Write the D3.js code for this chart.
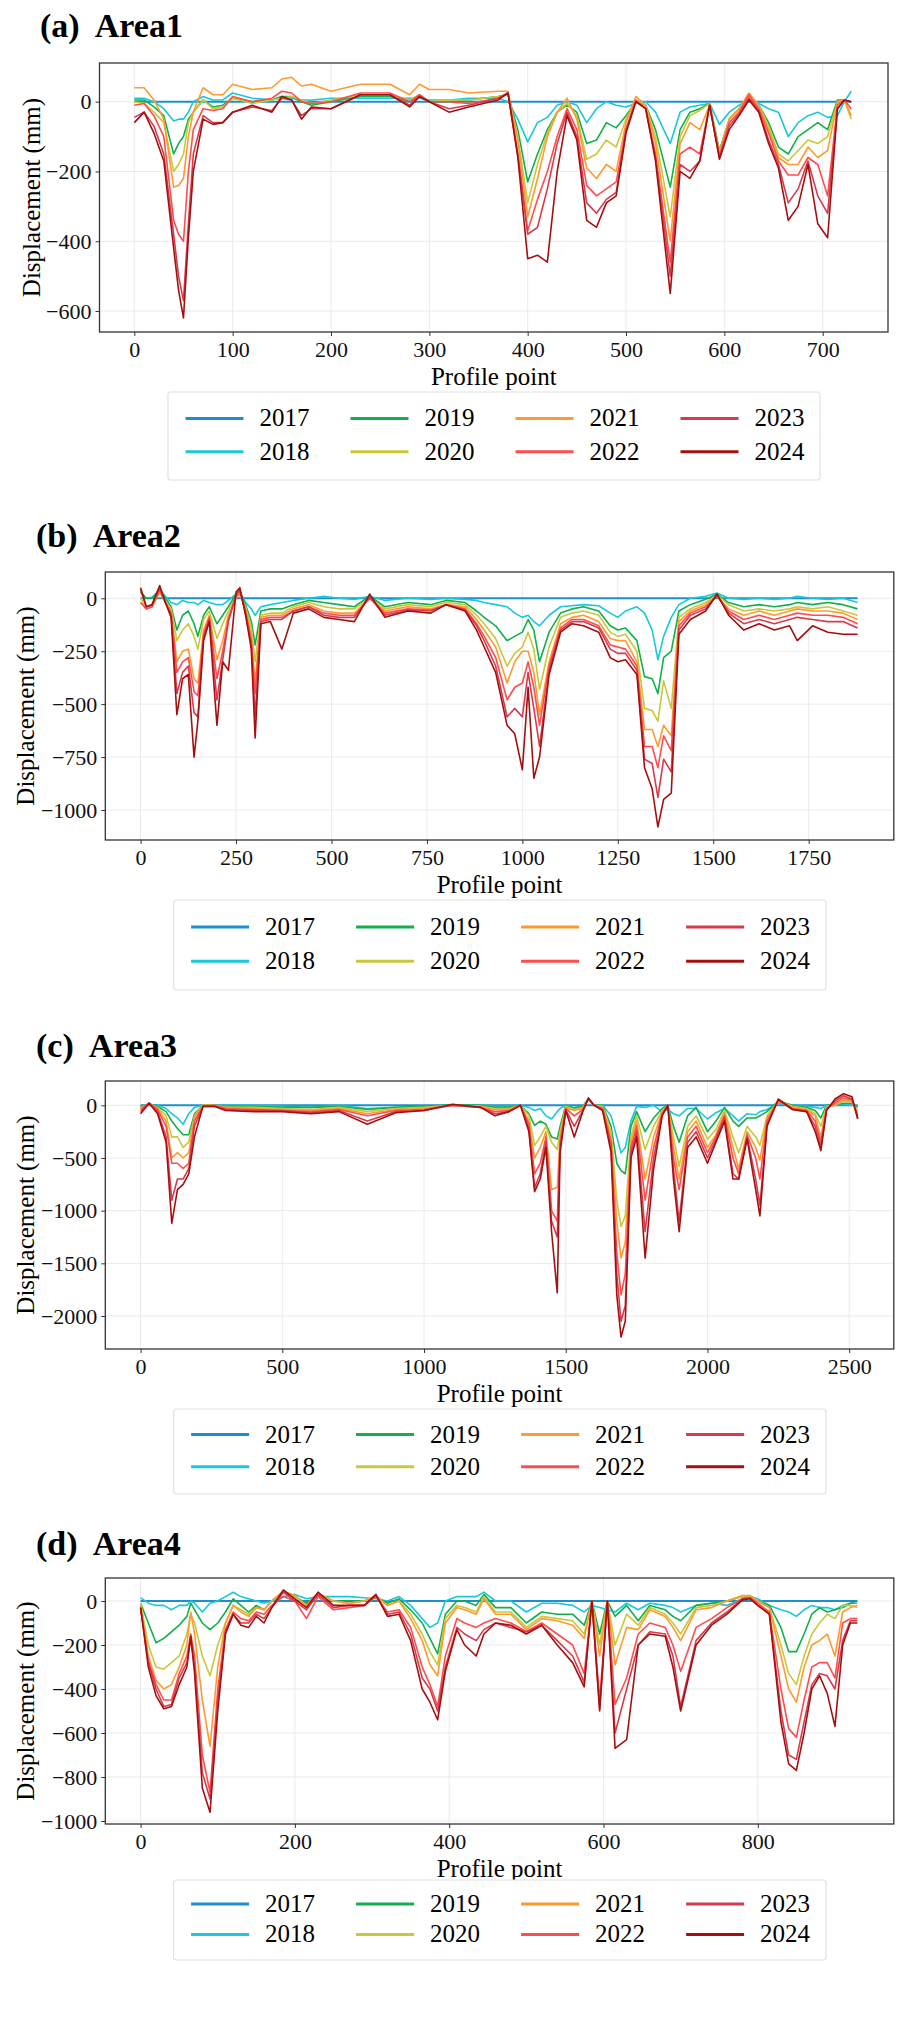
<!DOCTYPE html>
<html>
<head>
<meta charset="utf-8">
<script src="https://cdn.jsdelivr.net/npm/d3@7"></script>
<style>
  body { margin: 0; background: #fff; }
  text { font-family: "Liberation Serif", "Times New Roman", serif; }
</style>
</head>
<body>
<svg id="fig" width="906" height="2020"></svg>
<script>
// years and colours of the legend
const years = ["2017", "2018", "2019", "2020", "2021", "2022", "2023", "2024"];
const colors = ["#1b8fcf", "#19c8dc", "#10b04a", "#c8c83a", "#ff9a30", "#ff4c4c", "#d63a4e", "#a3100f"];

// ---- Area1 ----
const a1x = [0,10,20,30,40,45,50,55,60, 70,80,90,100, 120,140,150,160,170,180,200, 230,260,280,290,300,320,340,370,380,
  390,400,410,420,430,440,450,460,470,480,490,500,510,520,530, 545,555,565,575,585,595,605,615,625,635,645,655,665,675,685,695,705, 715,722,729];
const a1_2017 = a1x.map(() => 0);
const a1_2018 = [10,10,0,-20,-55,-50,-50,-30,0, 15,5,5,25, 10,5,15,10,5,5,10, 10,10,10,10,5,5,10,10,0,
  -50,-115,-60,-45,-10,0,-10,-60,-20,0,-10,-15,-5,0,-30, -120,-30,-15,-10,-5,-65,-30,-10,5,-5,-20,-30,-100,-60,-40,-30,-45, -40,0,30];
const a1_2019 = [5,5,-15,-40,-150,-120,-100,-50,-30, 5,-15,-10,10, 0,5,15,15,0,-10,0, 15,15,0,15,0,0,5,15,20,
  -80,-230,-150,-80,-30,-10,-30,-120,-110,-60,-75,-40,0,-10,-80, -245,-80,-30,-20,-5,-140,-50,-20,10,-10,-60,-130,-150,-100,-80,-60,-80, 5,5,0];
const a1_2020 = [0,-5,-30,-60,-200,-180,-150,-60,-30, 5,-20,-15,10, -5,5,10,15,5,-5,5, 20,20,5,20,0,5,5,15,20,
  -100,-290,-180,-90,-30,-5,-40,-165,-150,-110,-130,-50,5,-10,-100, -330,-100,-40,-25,-5,-145,-50,-20,15,-10,-70,-150,-170,-140,-110,-120,-100, 0,5,-50];
const a1_2021 = [40,40,5,-50,-245,-240,-220,-100,-30, 40,20,20,50, 35,40,65,70,45,50,30, 50,50,20,50,35,35,25,30,30,
  -110,-330,-220,-100,-30,10,-50,-190,-220,-180,-200,-60,15,-10,-120, -400,-120,-60,-80,-10,-150,-50,-20,25,-10,-80,-160,-180,-180,-130,-160,-140, 0,5,-40];
const a1_2022 = [-10,-5,-40,-100,-340,-380,-400,-200,-80, -20,-25,-20,15, 0,10,30,25,0,-5,0, 25,25,0,20,0,0,-5,10,25,
  -150,-370,-280,-200,-100,-20,-80,-240,-270,-250,-230,-80,5,-20,-150, -460,-150,-130,-150,-10,-155,-60,-30,20,-20,-90,-170,-210,-210,-160,-180,-270, -10,5,-20];
const a1_2023 = [-45,-30,-70,-150,-380,-500,-570,-350,-150, -40,-60,-60,-30, -15,-25,10,5,-40,-20,-20, 20,20,-10,15,0,-20,-10,10,25,
  -150,-380,-360,-250,-120,-30,-100,-290,-320,-280,-260,-80,0,-20,-160, -500,-180,-200,-170,-10,-160,-70,-35,10,-25,-110,-180,-290,-250,-170,-270,-320, -20,5,0];
const a1_2024 = [-60,-30,-90,-170,-420,-540,-620,-390,-200, -50,-65,-60,-30, -10,-30,15,5,-50,-15,-20, 20,20,-15,15,0,-30,-15,5,25,
  -160,-450,-440,-460,-200,-40,-110,-340,-360,-290,-270,-90,0,-20,-170, -550,-200,-220,-170,-10,-165,-80,-40,5,-30,-120,-190,-340,-300,-180,-350,-390, -20,5,0];

// ---- Area2 ----
const a2x = [0,15,30,50,65,80,95,110,125,140, 150,165,180,200,215,230,250,260,275,290, 300,315,340,370,400,440,480,520,560,600,
  640,700,760,800,850,880,900,930,960,980, 1000,1015,1030,1045,1070,1100,1130,1160,1200,1230,
  1250,1270,1300,1320,1340,1355,1370,1390,1410,1440, 1480,1510,1540,1580,1620,1660,1700,1720,1760,1800, 1840,1878];
const a2_2017 = a2x.map(() => 0);
const a2_2018 = [30,0,5,40,10,-20,-30,-10,-20,-20, -30,-10,-20,-30,-30,-10,20,30,-20,-50, -80,-40,-30,-20,-10,0,10,0,-5,10,
  -10,0,-5,0,-5,-10,-20,-30,-40,-70, -90,-80,-110,-130,-80,-40,-35,-30,-35,-70, -90,-60,-40,-70,-150,-290,-180,-90,-30,0,
  10,25,0,-5,0,-5,0,10,0,-5, 0,-20];
const a2_2019 = [30,0,0,40,0,-40,-150,-80,-60,-120, -180,-80,-40,-120,-80,-40,20,30,-30,-110, -220,-60,-50,-50,-30,-10,-20,-30,-40,10,
  -40,-20,-30,-10,-20,-60,-90,-130,-200,-180, -160,-100,-150,-300,-160,-70,-50,-40,-60,-130, -150,-140,-200,-370,-380,-450,-280,-250,-60,-30,
  -5,20,-20,-40,-30,-40,-30,-20,-30,-20, -30,-50];
const a2_2020 = [0,-40,-30,30,-10,-50,-200,-150,-120,-180, -240,-100,-60,-190,-120,-60,10,20,-40,-140, -300,-80,-70,-70,-40,-20,-40,-50,-50,0,
  -50,-30,-40,-20,-30,-80,-120,-190,-320,-260, -230,-160,-240,-430,-230,-90,-70,-60,-80,-160, -180,-170,-250,-520,-530,-580,-390,-520,-90,-50,
  -20,15,-30,-60,-50,-60,-50,-40,-50,-40, -60,-80];
const a2_2021 = [-20,-50,-40,30,-20,-60,-300,-250,-240,-380, -400,-150,-80,-290,-200,-80,0,20,-50,-180, -400,-90,-80,-80,-50,-30,-60,-70,-70,0,
  -60,-40,-50,-30,-40,-100,-150,-230,-400,-300, -250,-250,-350,-550,-300,-120,-90,-80,-110,-190, -200,-200,-300,-620,-620,-700,-600,-650,-110,-60,
  -30,10,-50,-80,-60,-80,-60,-50,-60,-60, -70,-100];
const a2_2022 = [-20,-50,-40,40,-20,-70,-350,-300,-280,-440, -460,-170,-90,-380,-250,-100,10,30,-60,-200, -450,-100,-90,-90,-60,-40,-70,-80,-80,0,
  -70,-50,-55,-30,-50,-120,-180,-280,-480,-420, -400,-300,-420,-600,-320,-140,-100,-100,-130,-220, -230,-240,-320,-700,-700,-800,-650,-720,-130,-70,
  -40,10,-60,-100,-80,-100,-80,-70,-80,-80, -90,-120];
const a2_2023 = [40,-40,-30,50,-20,-80,-450,-350,-320,-540, -560,-180,-100,-480,-290,-110,20,40,-70,-220, -560,-110,-100,-100,-60,-40,-80,-90,-90,5,
  -80,-55,-60,-30,-55,-130,-200,-320,-560,-520, -560,-350,-520,-700,-340,-150,-110,-110,-140,-240, -260,-260,-340,-760,-780,-940,-760,-820,-150,-80,
  -50,15,-70,-120,-100,-120,-100,-90,-100,-110, -110,-140];
const a2_2024 = [50,-40,-30,60,-20,-90,-550,-380,-360,-750, -580,-200,-110,-600,-300,-340,30,50,-80,-240, -660,-120,-110,-240,-70,-50,-90,-100,-110,20,
  -90,-60,-70,-30,-60,-150,-230,-350,-600,-640, -810,-420,-850,-750,-360,-160,-120,-130,-160,-280, -300,-290,-360,-800,-900,-1080,-950,-920,-170,-100,
  -60,20,-80,-150,-120,-150,-130,-200,-130,-160, -170,-170];

// ---- Area3 ----
const a3x = [0,30,60,90,110,130,150,170,190,220, 260,300,400,500,600,700,800,900,1000,1100, 1200,1250,1300,1340,1370,1390,1410,1430,1450,1470,
  1480,1500,1530,1560,1580,1600,1630,1660,1680,1695, 1710,1730,1750,1780,1810,1840,1860,1880,1900,1930,
  1960,2000,2030,2060,2090,2110,2140,2170,2185,2210, 2250,2300,2350,2380,2400,2420,2450,2480,2510,2530];
const a3_2017 = a3x.map(() => 0);
const a3_2018 = [-10,10,0,-30,-80,-120,-180,-80,-20,0, 0,0,0,-10,-20,0,-30,-20,-10,5, 0,-10,-10,0,-20,-50,-30,-100,-130,-60,
  -30,0,-20,-10,60,0,0,-100,-300,-450, -400,-150,-10,-20,0,-60,-40,-80,-100,-30, -30,-130,-70,-30,-100,-150,-80,-90,-60,-40,
  20,0,-10,-20,-30,0,0,10,0,0];
const a3_2019 = [-10,10,-10,-60,-150,-220,-280,-280,-80,0, 0,-10,-10,-20,-20,-10,-40,-20,-10,5, 0,-20,-20,0,-80,-190,-150,-180,-300,-320,
  -200,0,-30,-10,60,0,0,-200,-550,-620, -650,-200,-60,-250,-120,-30,0,-200,-350,-100, -20,-250,-150,-20,-150,-200,-120,-120,-100,-60,
  40,0,-20,-50,-120,0,0,20,20,-20];
const a3_2020 = [-20,10,-20,-100,-300,-300,-400,-350,-100,0, 0,-20,-20,-30,-40,-20,-60,-30,-20,0, -10,-30,-30,0,-100,-380,-300,-200,-350,-420,
  -250,-10,-40,-20,60,0,-10,-250,-900,-1150, -1050,-300,-100,-420,-200,-50,0,-300,-580,-200, -100,-320,-230,-50,-300,-450,-200,-300,-380,-100,
  40,-10,-30,-80,-200,-10,0,40,30,-50];
const a3_2021 = [-30,20,-30,-150,-500,-450,-500,-450,-120,0, 0,-20,-30,-40,-50,-30,-80,-40,-30,0, -10,-40,-40,0,-150,-500,-400,-250,-800,-780,
  -300,-20,-50,-30,60,0,-20,-300,-1100,-1450, -1300,-350,-150,-700,-300,-60,0,-400,-700,-250, -150,-400,-280,-70,-400,-600,-250,-400,-520,-120,
  40,-20,-40,-100,-300,-20,0,50,40,-80];
const a3_2022 = [-40,20,-40,-200,-550,-550,-600,-550,-150,-10, 0,-30,-40,-50,-60,-40,-100,-50,-40,0, -20,-60,-50,0,-180,-650,-550,-300,-1000,-1100,
  -350,-30,-100,-40,60,0,-30,-350,-1400,-1800, -1600,-400,-200,-900,-400,-80,0,-500,-800,-300, -200,-450,-300,-100,-500,-650,-280,-500,-700,-150,
  50,-30,-50,-150,-350,-30,20,70,50,-100];
const a3_2023 = [-60,20,-60,-300,-900,-700,-700,-600,-200,-10, -10,-40,-50,-50,-70,-50,-150,-60,-50,0, -20,-80,-60,0,-220,-780,-650,-350,-1100,-1250,
  -400,-40,-200,-50,60,0,-40,-400,-1600,-2050, -1900,-450,-250,-1200,-500,-90,0,-600,-1100,-350, -250,-500,-320,-120,-650,-700,-300,-700,-950,-180,
  50,-40,-60,-200,-400,-40,40,90,60,-120];
const a3_2024 = [-80,20,-80,-350,-1120,-800,-750,-650,-300,-10, -10,-50,-60,-60,-80,-60,-180,-70,-50,10, -20,-100,-60,0,-250,-820,-700,-400,-1200,-1780,
  -450,-50,-300,-60,70,0,-50,-450,-1800,-2200, -2050,-500,-300,-1450,-600,-100,0,-700,-1200,-400, -300,-550,-350,-150,-700,-700,-320,-800,-1050,-200,
  60,-40,-60,-250,-430,-50,60,110,80,-130];

// ---- Area4 ----
const a4x = [0,10,20,30,40,50,60,65,70,80, 90,100,110,120,130,140,150,160,170,185, 200,215,230,250,270,290,305,320,335,350,
  365,375,385,395,410,420,435,445,460,480, 500,520,540,560,575,585,595,605,615,630, 645,660,680,690,700,720,740,760,780,790,
  800,815,830,840,850,860,870,880,890,900, 910,920,929];
const a4_2017 = a4x.map(() => 0);
const a4_2018 = [15,-10,-20,-20,-40,-20,-20,0,-10,-50, -10,0,20,40,20,10,0,-10,0,20, 30,10,20,20,20,15,10,0,20,-20,
  -80,-120,-100,0,20,20,20,40,0,0, -50,-10,-10,-20,-50,-20,-30,-40,-50,-10, -40,-10,-20,-30,-50,-20,-10,-20,10,20,
  10,-20,-40,-50,-70,-40,-20,-30,-30,-40, -20,-10,-10];
const a4_2019 = [-10,-100,-190,-170,-140,-110,-70,-10,-40,-100, -130,-100,-50,10,-20,-50,-20,-40,0,40, 20,-10,30,0,0,0,20,-10,10,-40,
  -100,-170,-240,-60,0,0,-20,30,-30,-30, -100,-50,-60,-60,-110,0,-150,0,-70,-20, -90,-20,-40,-70,-90,-20,-10,0,20,20,
  0,-20,-120,-230,-230,-150,-60,-30,-50,-40, -30,-10,0];
const a4_2020 = [-10,-200,-300,-310,-280,-250,-150,-60,-100,-250, -340,-200,-100,-20,-40,-60,-30,-40,0,40, 20,-20,30,0,-10,0,20,-20,0,-60,
  -150,-230,-290,-80,-20,-30,-50,20,-50,-50, -120,-70,-80,-90,-150,0,-200,0,-200,-60, -110,-30,-60,-100,-150,-30,-20,0,20,20,
  0,-30,-200,-330,-380,-250,-150,-100,-60,-80, -20,-20,-30];
const a4_2021 = [-20,-250,-360,-400,-380,-300,-200,-50,-150,-450, -660,-300,-100,-20,-50,-70,-30,-40,0,45, 25,-20,35,0,-10,0,25,-20,0,-80,
  -180,-290,-340,-100,-30,-40,-60,10,-60,-60, -130,-80,-90,-110,-170,0,-250,0,-290,-120, -130,-40,-70,-120,-180,-40,-30,0,25,25,
  0,-30,-250,-400,-460,-300,-200,-180,-150,-250, -50,-30,-20];
const a4_2022 = [-30,-270,-380,-450,-450,-330,-250,-150,-250,-700, -870,-400,-130,-50,-80,-90,-50,-60,-20,20, 0,-80,20,-40,-30,-20,20,-50,-40,-120,
  -300,-380,-480,-250,-80,-100,-120,-100,-80,-100, -140,-100,-150,-200,-330,0,-450,0,-470,-350, -150,-100,-120,-200,-320,-120,-80,-30,10,15,
  -10,-50,-400,-580,-620,-450,-300,-280,-280,-350, -100,-80,-80];
const a4_2023 = [-30,-280,-400,-480,-470,-350,-280,-170,-300,-780, -900,-450,-140,-60,-100,-100,-60,-80,-30,40, 0,-40,30,-30,-20,-20,25,-60,-50,-150,
  -350,-400,-500,-300,-120,-150,-180,-130,-100,-120, -140,-110,-180,-250,-370,0,-490,0,-600,-400, -200,-140,-150,-250,-480,-180,-100,-50,10,15,
  -20,-60,-500,-700,-720,-550,-380,-330,-340,-400, -180,-90,-90];
const a4_2024 = [-30,-300,-430,-490,-480,-380,-300,-160,-330,-850, -960,-500,-150,-60,-110,-120,-70,-100,-30,50, 10,-30,40,-20,-20,-20,30,-70,-60,-180,
  -400,-460,-540,-320,-130,-200,-250,-150,-100,-110, -150,-110,-200,-280,-390,0,-500,0,-670,-630, -200,-150,-160,-300,-500,-200,-110,-60,5,10,
  -20,-60,-550,-740,-770,-600,-400,-340,-420,-570, -200,-100,-100];

const yTicks1 = [0, -200, -400, -600];
const yTicks2 = [0, -250, -500, -750, -1000];
const yTicks3 = [0, -500, -1000, -1500, -2000];
const yTicks4 = [0, -200, -400, -600, -800, -1000];
const xTicks1 = [0, 100, 200, 300, 400, 500, 600, 700];
const xTicks2 = [0, 250, 500, 750, 1000, 1250, 1500, 1750];
const xTicks3 = [0, 500, 1000, 1500, 2000, 2500];
const xTicks4 = [0, 200, 400, 600, 800];

// layout of each panel (pixels)
const panels = [
  { title: "(a)  Area1", tx: 40, ty: 37, box: [99.5, 63, 888, 332], xs: [[0, 700], [134.3, 822.7]], ys: [[0, -600], [101.7, 311]],
    xt: xTicks1, yt: yTicks1, x: a1x, s: [a1_2017, a1_2018, a1_2019, a1_2020, a1_2021, a1_2022, a1_2023, a1_2024], leg: [168, 392, 820, 480] },
  { title: "(b)  Area2", tx: 36, ty: 547, box: [105.3, 572, 893.8, 840], xs: [[0, 1750], [140.6, 808.7]], ys: [[0, -1000], [598.3, 810]],
    xt: xTicks2, yt: yTicks2, x: a2x, s: [a2_2017, a2_2018, a2_2019, a2_2020, a2_2021, a2_2022, a2_2023, a2_2024], leg: [173.6, 900, 826, 990] },
  { title: "(c)  Area3", tx: 36, ty: 1057, box: [105.3, 1081, 893.8, 1349], xs: [[0, 2500], [140.6, 849.2]], ys: [[0, -2000], [1105.3, 1316]],
    xt: xTicks3, yt: yTicks3, x: a3x, s: [a3_2017, a3_2018, a3_2019, a3_2020, a3_2021, a3_2022, a3_2023, a3_2024], leg: [173.6, 1409, 826, 1494] },
  { title: "(d)  Area4", tx: 36, ty: 1555, box: [105.3, 1578, 893.8, 1824], xs: [[0, 800], [140.6, 757.8]], ys: [[0, -1000], [1601, 1821]],
    xt: xTicks4, yt: yTicks4, x: a4x, s: [a4_2017, a4_2018, a4_2019, a4_2020, a4_2021, a4_2022, a4_2023, a4_2024], leg: [173.6, 1880, 826, 1960] }
];

const svg = d3.select("#fig");

panels.forEach(function (p, i) {
  const [x0, y0, x1, y1] = p.box;
  const x = d3.scaleLinear().domain(p.xs[0]).range(p.xs[1]);
  const y = d3.scaleLinear().domain(p.ys[0]).range(p.ys[1]);
  const g = svg.append("g");

  g.append("text").attr("x", p.tx).attr("y", p.ty).attr("xml:space", "preserve")
    .style("white-space", "pre")
    .attr("font-size", 34).attr("font-weight", "bold").text(p.title);

  g.append("clipPath").attr("id", "clip" + i)
    .append("rect").attr("x", x0).attr("y", y0).attr("width", x1 - x0).attr("height", y1 - y0);

  // grid
  g.selectAll(".gx").data(p.xt).join("line")
    .attr("x1", d => x(d)).attr("x2", d => x(d)).attr("y1", y0).attr("y2", y1)
    .attr("stroke", "#ebebeb").attr("stroke-width", 1);
  g.selectAll(".gy").data(p.yt).join("line")
    .attr("y1", d => y(d)).attr("y2", d => y(d)).attr("x1", x0).attr("x2", x1)
    .attr("stroke", "#ebebeb").attr("stroke-width", 1);

  // series
  const line = d3.line().x(d => x(d[0])).y(d => y(d[1]));
  const lines = g.append("g").attr("clip-path", "url(#clip" + i + ")");
  p.s.forEach(function (vals, k) {
    lines.append("path")
      .datum(p.x.map((v, j) => [v, vals[j]]))
      .attr("d", line).attr("fill", "none")
      .attr("stroke", colors[k]).attr("stroke-width", k === 0 ? 2 : 1.6)
      .attr("stroke-linejoin", "round");
  });

  // axes
  const xa = g.append("g").attr("transform", "translate(0," + y1 + ")")
    .call(d3.axisBottom(x).tickValues(p.xt).tickSize(4).tickPadding(5).tickFormat(d3.format("d")));
  const ya = g.append("g").attr("transform", "translate(" + x0 + ",0)")
    .call(d3.axisLeft(y).tickValues(p.yt).tickSize(4).tickPadding(4).tickFormat(d3.format("d")));
  [xa, ya].forEach(a => {
    a.select(".domain").remove();
    a.selectAll("line").attr("stroke", "#333");
    a.selectAll("text").attr("font-size", 22).attr("fill", "#111")
      .style("font-family", '"Liberation Serif", serif');
  });

  g.append("rect").attr("x", x0).attr("y", y0).attr("width", x1 - x0).attr("height", y1 - y0)
    .attr("fill", "none").attr("stroke", "#333").attr("stroke-width", 1.3);

  g.append("text").attr("x", (x0 + x1) / 2).attr("y", y1 + 53)
    .attr("text-anchor", "middle").attr("font-size", 25).text("Profile point");
  g.append("text").attr("transform", "translate(" + (i === 0 ? 40 : 34) + "," + ((y0 + y1) / 2) + ") rotate(-90)")
    .attr("text-anchor", "middle").attr("font-size", 25).text("Displacement (mm)");

  // legend
  const [lx0, ly0, lx1, ly1] = p.leg;
  g.append("rect").attr("x", lx0).attr("y", ly0).attr("width", lx1 - lx0).attr("height", ly1 - ly0)
    .attr("rx", 3).attr("fill", "#fff").attr("stroke", "#e2e2e2").attr("stroke-width", 1.2);
  years.forEach(function (yr, k) {
    const col = Math.floor(k / 2), row = k % 2;
    const cx = lx0 + 17.5 + col * 165;
    const cy = ly0 + (ly1 - ly0) * (row === 0 ? 0.3 : 0.68);
    g.append("line").attr("x1", cx).attr("x2", cx + 58).attr("y1", cy).attr("y2", cy)
      .attr("stroke", colors[k]).attr("stroke-width", 3);
    g.append("text").attr("x", cx + 74).attr("y", cy + 8).attr("font-size", 25).text(yr);
  });
});
</script>
</body>
</html>
